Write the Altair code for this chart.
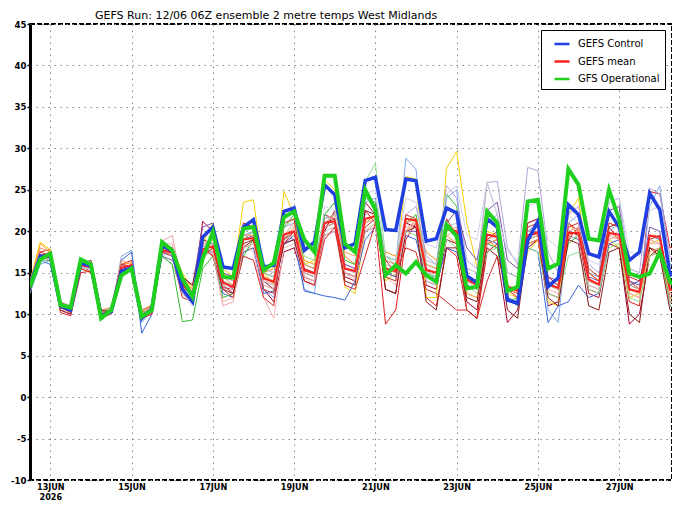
import altair as alt
import pandas as pd

# 6-hourly steps from 12 JUN 12Z (step 0) to 28 JUN 12Z (step 64)
steps = list(range(65))
tick_pos = [2, 10, 18, 26, 34, 42, 50, 58]
tick_labels = [["13JUN", "2026"], "15JUN", "17JUN", "19JUN", "21JUN", "23JUN", "25JUN", "27JUN"]
y_ticks = [-10, -5, 0, 5, 10, 15, 20, 25, 30, 35, 40, 45]

gfs_operational = [
    13.3, 16.6, 17.3, 11.1, 10.8, 16.6, 16.0, 9.5, 10.5, 14.7, 15.5, 9.7,
    10.5, 18.7, 17.7, 14.3, 12.1, 16.7, 19.9, 14.5, 14.4, 20.3, 20.5, 15.3,
    16.2, 21.7, 22.4, 19.0, 17.5, 26.7, 26.7, 18.5, 17.5, 25.0, 22.6, 14.7,
    15.9, 14.9, 16.3, 14.7, 13.9, 20.8, 19.4, 13.1, 13.3, 22.4, 21.0, 12.8,
    13.3, 23.6, 23.8, 15.5, 16.1, 27.5, 25.6, 19.1, 18.9, 25.0, 21.4, 14.9,
    14.5, 14.9, 17.5, 13.9, 13.1]
gefs_control = [
    13.5, 17.0, 17.0, 11.0, 10.5, 16.2, 15.8, 9.8, 10.3, 15.2, 15.6, 9.5,
    10.7, 18.3, 17.6, 13.0, 11.5, 19.3, 20.5, 15.7, 15.5, 20.5, 21.4, 15.7,
    15.9, 22.4, 22.8, 17.7, 18.7, 25.6, 24.4, 18.0, 18.5, 26.1, 26.5, 20.2,
    20.1, 26.3, 26.1, 18.8, 19.1, 22.8, 22.2, 14.6, 13.8, 21.5, 20.5, 11.7,
    11.3, 18.9, 21.2, 13.3, 14.4, 23.2, 22.0, 17.3, 16.9, 22.4, 20.5, 16.5,
    17.5, 24.6, 22.6, 14.7, 15.5]
gefs_mean = [
    13.4, 16.9, 17.0, 11.0, 10.5, 15.9, 15.7, 10.0, 10.3, 15.6, 15.9, 9.9,
    10.6, 17.7, 17.4, 13.5, 12.4, 17.8, 18.2, 13.8, 13.3, 19.0, 19.2, 14.3,
    13.9, 19.6, 20.0, 15.3, 14.9, 21.0, 21.2, 15.5, 15.2, 21.5, 21.8, 15.5,
    15.2, 21.5, 21.3, 15.3, 15.0, 20.3, 20.0, 14.2, 13.5, 19.6, 19.3, 13.3,
    12.8, 19.5, 19.8, 13.6, 13.2, 19.8, 19.8, 14.2, 13.6, 19.8, 19.6, 13.0,
    12.7, 19.5, 19.3, 13.0, 12.5]

m01 = [13.0, 17.5, 17.8, 10.2, 9.8, 15.0, 15.2, 9.6, 10.0, 16.0, 16.5, 9.5,
       10.2, 18.0, 17.0, 13.0, 12.8, 18.5, 17.0, 13.2, 13.0, 21.0, 20.5, 14.0,
       13.5, 18.5, 20.0, 15.0, 14.5, 22.0, 21.5, 15.5, 15.0, 22.5, 21.0, 8.8,
       10.5, 19.0, 21.0, 12.0, 11.0, 18.0, 17.0, 10.5, 9.5, 17.5, 18.5, 12.0,
       11.0, 19.5, 20.0, 12.5, 12.0, 21.0, 20.0, 13.0, 12.5, 20.5, 19.0, 11.5,
       11.0, 24.8, 24.5, 18.0, 18.2]
m02 = [13.8, 17.2, 16.8, 10.5, 10.0, 16.0, 15.0, 10.2, 10.6, 15.0, 15.5, 10.5,
       11.0, 18.5, 18.0, 13.8, 12.0, 21.2, 20.0, 14.0, 13.0, 19.0, 20.0, 13.0,
       11.5, 17.5, 18.0, 14.0, 13.5, 20.0, 22.5, 14.5, 14.0, 23.5, 22.0, 13.0,
       12.5, 21.0, 20.5, 13.5, 13.0, 19.0, 18.5, 11.5, 10.5, 18.0, 17.0, 9.0,
       10.5, 18.0, 19.0, 11.0, 11.5, 20.0, 19.5, 12.5, 12.0, 18.5, 18.0, 8.8,
       10.0, 17.0, 18.0, 12.0, 11.5]
m03 = [13.5, 18.5, 17.5, 10.8, 10.4, 16.2, 15.5, 10.5, 10.2, 16.0, 16.2, 10.2,
       11.0, 18.0, 17.0, 14.0, 13.5, 17.0, 18.0, 15.0, 14.0, 17.5, 18.0, 15.0,
       15.5, 19.0, 20.5, 16.5, 16.0, 21.5, 22.0, 17.0, 16.0, 21.0, 22.0, 17.5,
       17.0, 20.0, 21.5, 17.5, 16.5, 19.5, 18.5, 12.5, 12.0, 19.0, 18.0, 13.0,
       12.5, 20.0, 20.5, 13.5, 13.0, 21.0, 19.5, 14.0, 13.5, 19.0, 19.5, 12.5,
       12.0, 17.0, 17.5, 11.5, 11.0]
m04 = [14.0, 18.7, 17.8, 11.5, 10.8, 15.5, 15.0, 10.0, 10.5, 15.0, 15.5, 10.3,
       11.2, 17.5, 18.0, 15.0, 13.0, 18.5, 21.0, 15.5, 14.5, 23.5, 23.8, 15.0,
       13.5, 24.8, 22.0, 16.0, 16.5, 26.2, 25.0, 13.3, 12.5, 20.0, 21.0, 14.0,
       15.0, 26.6, 26.3, 12.0, 12.0, 27.6, 29.6, 21.0, 15.7, 20.0, 19.5, 12.5,
       12.0, 17.5, 19.0, 11.5, 11.0, 22.0, 24.0, 15.0, 14.0, 19.0, 18.0, 12.0,
       12.5, 18.5, 19.0, 11.5, 12.0]
m05 = [12.5, 16.0, 16.5, 11.2, 10.8, 15.8, 15.5, 9.8, 10.4, 17.0, 17.7, 9.0,
       10.5, 17.0, 17.8, 13.5, 12.0, 18.0, 19.5, 13.5, 12.5, 19.5, 20.0, 13.0,
       12.0, 19.5, 19.0, 13.0, 12.5, 22.0, 21.0, 15.0, 14.5, 23.5, 24.0, 16.5,
       16.0, 28.8, 27.5, 15.5, 14.0, 24.0, 25.0, 14.0, 13.5, 21.0, 22.0, 15.0,
       14.5, 20.0, 21.0, 10.5, 9.0, 21.0, 22.0, 15.0, 14.5, 20.0, 21.0, 13.0,
       12.5, 23.0, 25.5, 16.0, 15.5]
m06 = [13.0, 16.5, 16.0, 10.5, 10.0, 16.0, 16.0, 9.8, 10.2, 16.5, 17.5, 7.7,
       10.0, 17.5, 17.0, 13.0, 11.5, 18.0, 17.5, 12.5, 12.0, 17.5, 18.0, 12.5,
       12.8, 18.5, 19.0, 12.8, 12.5, 12.2, 12.0, 11.7, 14.0, 19.0, 20.5, 15.0,
       14.5, 19.5, 19.0, 14.0, 13.5, 18.0, 17.5, 13.5, 13.0, 19.0, 18.5, 12.0,
       11.5, 18.0, 17.5, 9.0, 11.0, 11.5, 13.5, 12.0, 12.5, 18.5, 19.0, 13.5,
       14.0, 19.5, 19.0, 11.0, 10.5]
m07 = [13.2, 16.5, 17.0, 11.0, 10.8, 15.5, 16.0, 10.5, 10.8, 15.5, 15.5, 10.5,
       11.0, 17.5, 17.0, 14.0, 13.0, 18.0, 18.5, 14.5, 14.0, 19.5, 20.0, 15.5,
       15.0, 20.5, 21.0, 16.0, 15.5, 21.5, 22.0, 16.0, 15.5, 22.0, 22.5, 17.0,
       16.5, 22.0, 23.0, 17.0, 16.0, 25.5, 24.0, 16.5, 15.5, 25.9, 26.0, 18.0,
       16.0, 27.7, 27.3, 17.5, 15.0, 22.0, 23.0, 16.0, 15.0, 23.5, 24.0, 15.5,
       15.0, 25.2, 24.5, 17.0, 16.0]
m08 = [13.6, 17.0, 16.5, 11.5, 10.5, 16.5, 15.8, 10.0, 10.5, 16.0, 15.5, 10.0,
       10.8, 17.0, 16.5, 14.5, 13.5, 20.5, 21.0, 15.0, 14.5, 19.0, 19.5, 15.0,
       14.5, 18.5, 19.5, 15.5, 15.0, 19.5, 20.0, 16.0, 15.5, 20.0, 20.5, 15.0,
       14.5, 20.0, 20.0, 15.0, 14.5, 21.0, 22.5, 18.0, 16.5, 22.5, 23.5, 16.5,
       15.5, 21.0, 21.5, 14.5, 14.0, 19.5, 19.0, 14.5, 14.0, 22.5, 23.0, 14.0,
       13.5, 20.5, 20.0, 11.5, 11.0]
m09 = [13.0, 16.8, 17.5, 11.0, 10.2, 15.5, 15.5, 9.8, 10.0, 15.8, 15.5, 9.5,
       10.5, 18.5, 18.5, 13.0, 11.5, 17.5, 17.5, 11.5, 12.0, 18.5, 17.5, 12.0,
       9.5, 18.0, 18.5, 14.5, 13.5, 19.5, 20.0, 15.0, 14.0, 20.0, 20.5, 14.5,
       13.5, 20.5, 21.0, 14.0, 13.5, 19.5, 20.0, 14.0, 13.0, 19.0, 19.5, 13.5,
       13.0, 18.5, 19.0, 13.0, 12.5, 19.5, 20.0, 13.5, 13.0, 19.0, 19.5, 12.5,
       12.0, 18.5, 18.5, 11.5, 11.0]
m10 = [13.5, 17.0, 17.0, 11.2, 10.6, 16.0, 15.5, 10.2, 10.5, 15.5, 15.8, 10.0,
       10.5, 17.0, 16.0, 13.0, 11.5, 17.0, 18.0, 14.0, 13.5, 19.0, 20.0, 15.0,
       14.5, 20.5, 21.5, 17.0, 16.5, 22.0, 23.5, 18.5, 17.5, 26.0, 28.2, 17.0,
       16.0, 20.0, 19.5, 15.0, 14.5, 19.0, 18.0, 13.5, 12.5, 17.5, 18.0, 12.0,
       11.0, 18.0, 17.5, 12.5, 12.0, 17.0, 17.5, 13.0, 12.5, 18.0, 18.5, 12.0,
       11.5, 17.0, 17.5, 11.0, 10.5]
m11 = [13.0, 16.5, 16.5, 11.5, 10.8, 16.0, 15.8, 10.5, 10.5, 15.0, 15.5, 10.2,
       10.5, 17.0, 16.0, 9.1, 9.3, 15.5, 17.0, 12.0, 12.5, 17.0, 19.0, 14.5,
       14.0, 20.5, 22.0, 16.0, 15.5, 22.0, 23.5, 16.5, 16.0, 24.0, 23.5, 17.0,
       16.5, 21.0, 22.0, 16.0, 15.5, 24.5, 23.0, 14.5, 14.0, 18.5, 18.0, 11.5,
       12.0, 19.0, 19.5, 13.5, 13.0, 18.5, 19.5, 14.0, 13.5, 20.5, 21.0, 13.5,
       13.0, 18.0, 17.5, 12.0, 11.5]
m12 = [13.3, 16.5, 17.0, 11.0, 10.5, 15.5, 15.5, 10.0, 10.5, 15.5, 15.8, 10.0,
       10.8, 17.5, 17.5, 14.0, 13.0, 17.0, 17.5, 14.0, 13.5, 18.5, 19.0, 14.0,
       13.5, 19.0, 19.5, 15.0, 14.5, 20.0, 20.5, 15.5, 15.0, 20.0, 21.0, 16.0,
       15.5, 21.0, 21.5, 16.5, 16.0, 20.5, 21.0, 15.5, 15.0, 25.8, 22.0, 15.0,
       14.5, 20.0, 20.5, 14.0, 13.5, 19.0, 19.5, 13.5, 13.0, 19.5, 20.0, 13.0,
       12.5, 19.0, 19.5, 12.5, 12.0]
m13 = [13.7, 17.5, 17.0, 10.8, 10.2, 16.5, 16.0, 10.0, 10.0, 15.5, 16.0, 9.8,
       10.5, 18.0, 17.5, 12.5, 11.5, 17.0, 18.0, 13.5, 12.5, 18.5, 19.0, 13.0,
       12.5, 19.0, 20.0, 15.5, 15.0, 21.0, 21.5, 15.0, 14.5, 20.5, 21.5, 14.5,
       14.0, 22.0, 21.5, 15.5, 15.0, 21.5, 19.5, 10.5, 9.5, 19.0, 20.0, 13.0,
       12.5, 20.5, 21.0, 14.0, 13.0, 19.0, 20.5, 15.5, 14.5, 20.5, 21.0, 14.0,
       13.0, 18.0, 17.5, 12.5, 12.0]
m14 = [13.0, 17.0, 16.5, 11.0, 10.5, 16.0, 16.5, 10.5, 10.2, 15.0, 15.5, 10.5,
       11.0, 17.5, 18.0, 14.5, 13.5, 19.0, 18.5, 13.0, 12.5, 18.0, 19.0, 14.0,
       13.0, 18.5, 19.0, 14.5, 14.0, 20.5, 21.0, 14.0, 13.5, 22.5, 22.0, 13.0,
       12.5, 20.0, 20.5, 11.5, 10.5, 18.0, 18.0, 12.0, 11.5, 18.5, 19.0, 10.5,
       9.5, 18.5, 19.0, 12.0, 11.0, 19.0, 18.5, 11.0, 10.5, 17.5, 18.0, 10.0,
       9.0, 18.0, 17.0, 10.5, 9.5]
m15 = [14.0, 18.0, 17.5, 11.0, 10.5, 16.0, 16.0, 10.5, 10.8, 16.5, 16.0, 10.5,
       11.0, 18.0, 17.5, 14.0, 13.0, 18.5, 19.0, 14.5, 13.5, 19.5, 19.5, 14.5,
       14.0, 19.5, 21.0, 16.0, 15.5, 21.0, 22.0, 17.5, 17.0, 21.5, 22.0, 16.5,
       16.0, 21.0, 21.5, 16.0, 15.5, 20.0, 20.5, 14.5, 14.0, 18.5, 19.0, 13.0,
       12.5, 18.5, 19.0, 13.5, 13.0, 19.5, 20.0, 14.0, 13.5, 20.0, 19.0, 13.0,
       12.5, 17.5, 18.0, 12.0, 11.5]
m16 = [13.4, 17.0, 17.5, 10.5, 10.0, 15.5, 15.0, 9.8, 10.2, 16.0, 15.8, 9.5,
       10.0, 17.5, 17.0, 12.0, 11.5, 18.0, 17.0, 13.0, 12.0, 17.0, 16.5, 12.0,
       11.0, 21.0, 21.5, 14.0, 13.5, 19.0, 20.5, 13.5, 13.0, 17.0, 21.0, 16.5,
       15.0, 18.0, 17.5, 13.0, 12.5, 11.5, 10.5, 10.5, 9.5, 14.0, 17.0, 13.0,
       12.0, 21.0, 21.5, 14.5, 13.5, 20.5, 21.0, 15.0, 14.0, 21.0, 20.5, 14.5,
       14.0, 19.0, 19.5, 13.0, 12.5]
m17 = [13.2, 16.2, 16.8, 11.0, 10.5, 15.8, 15.5, 10.0, 10.3, 15.5, 15.8, 10.0,
       10.8, 18.0, 17.0, 12.5, 11.0, 18.0, 18.5, 13.5, 13.0, 20.0, 20.5, 14.0,
       13.5, 21.0, 20.5, 14.5, 14.0, 23.0, 22.5, 15.5, 15.0, 24.5, 25.0, 17.0,
       16.5, 24.0, 23.5, 18.5, 18.0, 24.5, 25.5, 19.5, 19.0, 26.0, 22.0, 17.5,
       16.5, 23.0, 23.5, 19.0, 18.0, 22.0, 21.0, 16.5, 16.0, 23.5, 24.0, 17.5,
       17.0, 22.5, 23.0, 16.5, 16.0]
m18 = [13.5, 17.0, 16.5, 11.5, 11.0, 16.0, 15.5, 10.0, 10.0, 15.0, 15.5, 10.5,
       10.5, 18.8, 19.5, 13.5, 12.5, 18.5, 17.5, 11.0, 11.5, 18.0, 18.5, 13.5,
       13.0, 19.5, 20.0, 14.5, 14.0, 20.5, 21.0, 15.0, 14.5, 21.0, 21.5, 15.5,
       15.0, 20.0, 21.0, 15.5, 15.0, 20.5, 20.0, 14.5, 14.0, 19.5, 19.5, 13.5,
       13.0, 19.0, 19.5, 13.5, 13.0, 20.0, 20.5, 14.0, 13.5, 19.5, 19.0, 13.5,
       13.0, 19.0, 18.5, 12.5, 12.0]

member_series = [m01, m02, m03, m04, m05, m06, m07, m08, m09,
                 m10, m11, m12, m13, m14, m15, m16, m17, m18]
member_colors = ["#e41a1c", "#a50026", "#ff8c1a", "#f5d000", "#7fa8ea", "#3a64d8",
                 "#b3a6d9", "#7b52ab", "#f4b4b4", "#90dd90", "#33bb33", "#bdbdbd",
                 "#c0392b", "#8b1a1a", "#ff9966", "#d62728", "#cfcfe8", "#e8a0a0"]

main_names = ["GEFS Control", "GEFS mean", "GFS Operational"]
main_colors = ["#1f3fe0", "#ff2020", "#1fd01f"]

rows = []
for k, (vals, col) in enumerate(zip(member_series, member_colors)):
    for s, v in zip(steps, vals):
        rows.append({"step": s, "temp": v, "member": f"m{k:02d}", "col": col})
df_mem = pd.DataFrame(rows)

def main_df(name, vals):
    return pd.DataFrame({"step": steps, "temp": vals, "series": name})

df_ctl = main_df("GEFS Control", gefs_control)
df_mean = main_df("GEFS mean", gefs_mean)
df_op = main_df("GFS Operational", gfs_operational)

label_expr = ""
for p, lab in zip(tick_pos, tick_labels):
    if isinstance(lab, list):
        txt = "[" + ",".join(f"'{t}'" for t in lab) + "]"
    else:
        txt = f"'{lab}'"
    label_expr += f"datum.value == {p} ? {txt} : "
label_expr += "''"

axis_font = "DejaVu Sans Condensed, Liberation Sans Narrow, DejaVu Sans"

x_enc = alt.X("step:Q",
              scale=alt.Scale(domain=[0, 63.2], nice=False, zero=False),
              axis=alt.Axis(values=tick_pos, labelExpr=label_expr, title=None,
                            grid=True, gridDash=[1.5, 4.5], gridColor="#8a8a8a",
                            domain=False, ticks=False,
                            labelFont=axis_font, labelFontSize=9,
                            labelFontWeight="bold", labelColor="black",
                            labelPadding=2, labelLineHeight=10,
                            labelBaseline="top"))
y_enc = alt.Y("temp:Q",
              scale=alt.Scale(domain=[-10, 45], nice=False, zero=False),
              axis=alt.Axis(values=y_ticks, labelExpr="toString(datum.value)",
                            title=None, grid=True, gridDash=[1.5, 4.5],
                            gridColor="#8a8a8a", domain=True, domainColor="black",
                            domainWidth=3, ticks=True, tickSize=3, tickColor="black",
                            tickWidth=1.5,
                            labelFont=axis_font, labelFontSize=9.5,
                            labelFontWeight="bold", labelColor="black",
                            labelPadding=1))

color_scale = alt.Scale(domain=main_names, range=main_colors)
nbsp_pad = "\u00a0" * 6
legend = alt.Legend(title=None, orient="none", legendX=511, legendY=6,
                    symbolType="stroke", symbolStrokeWidth=2.5, symbolSize=225,
                    symbolOffset=7,
                    labelExpr=f"datum.label + '{nbsp_pad}'",
                    labelFont="DejaVu Sans", labelFontSize=10, labelColor="black",
                    strokeColor="black", fillColor="white",
                    padding=5, rowPadding=3.5, labelOffset=7, cornerRadius=0)

members = alt.Chart(df_mem).mark_line(strokeWidth=1, clip=True).encode(
    x=x_enc, y=y_enc, detail="member:N", stroke=alt.Stroke("col:N", scale=None))

def main_layer(df, width):
    return alt.Chart(df).mark_line(strokeWidth=width, clip=True).encode(
        x=x_enc, y=y_enc,
        color=alt.Color("series:N", scale=color_scale, legend=legend))

chart = alt.layer(
    members,
    main_layer(df_mean, 2),
    main_layer(df_ctl, 3.5),
    main_layer(df_op, 4),
).properties(
    width=642, height=456,
    autosize=alt.AutoSizeParams(type="none"),
    padding={"left": 22, "top": 16, "right": 0, "bottom": 22},
    title=alt.TitleParams("GEFS Run: 12/06 06Z ensemble 2 metre temps West Midlands",
                          anchor="start", frame="group", dx=65, dy=7, offset=5,
                          fontSize=11, fontWeight="normal", font="DejaVu Sans",
                          color="black"),
).configure_view(stroke="black", strokeWidth=2, strokeDash=[5, 2])

chart.save("out.html", embed_options={"renderer": "svg", "actions": False})
